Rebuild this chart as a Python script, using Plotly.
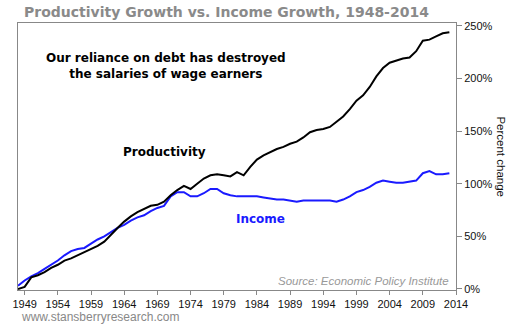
import plotly.graph_objects as go

years = list(range(1948, 2014))
productivity = [0, 2, 11, 13, 16, 20, 23, 27, 29, 32, 35, 38, 41, 45, 52, 58, 64, 69, 73, 76,
                79, 80, 83, 89, 94, 98, 95, 100, 105, 108, 109, 108, 107, 111, 108, 116, 123, 127, 130, 133,
                135, 138, 140, 144, 149, 151, 152, 154, 159, 164, 171, 179, 184, 192, 202, 210, 215, 217,
                219, 220, 226, 236, 237, 240, 243, 244]
income = [3, 8, 12, 15, 19, 23, 27, 32, 36, 38, 39, 43, 47, 50, 54, 58, 61, 65, 68, 70,
          74, 77, 79, 88, 92, 92, 88, 88, 91, 95, 95, 91, 89, 88, 88, 88, 88, 87, 86, 85,
          85, 84, 83, 84, 84, 84, 84, 84, 83, 85, 88, 92, 94, 97, 101, 103, 102, 101,
          101, 102, 103, 110, 112, 109, 109, 110]
x_ticks = list(range(1949, 2015, 5))
y_ticks = [0, 50, 100, 150, 200, 250]
y_labels = [f"{v}%" for v in y_ticks]

W, H = 510, 325
l, r, t, b = 14, 54, 23, 35
pw, ph = W - l - r, H - t - b


def px_x(v):
    return (v - l) / pw


def px_y(v):
    return (H - b - v) / ph


fig = go.Figure()
fig.add_trace(go.Scatter(x=years, y=income, mode="lines",
                         line=dict(color="#1a1aff", width=2), hoverinfo="skip"))
fig.add_trace(go.Scatter(x=years, y=productivity, mode="lines",
                         line=dict(color="#000000", width=2), hoverinfo="skip"))

texts = [
    ("<b>Productivity Growth vs. Income Growth, 1948-2014</b>", 18, 12, "left", "middle",
     dict(family="DejaVu Sans", size=14, color="#8a8a8a"), 0),
    ("<b>Our reliance on debt has destroyed<br>the salaries of wage earners</b>", 163, 66, "center", "middle",
     dict(family="DejaVu Sans", size=12, color="#000"), 0),
    ("<b>Productivity</b>", 162, 152, "center", "middle",
     dict(family="DejaVu Sans", size=12, color="#000"), 0),
    ("<b>Income</b>", 259, 219, "center", "middle",
     dict(family="DejaVu Sans", size=12, color="#1a1aff"), 0),
    ("<i>Source: Economic Policy Institute</i>", 451, 281, "right", "middle",
     dict(family="Liberation Sans, Arial", size=11.5, color="#999"), 0),
    ("Percent change", 501, 157, "center", "middle",
     dict(family="Liberation Sans, Arial", size=11.5, color="#111"), 90),
    ("www.stansberryresearch.com", 15, 317, "left", "middle",
     dict(family="Liberation Sans, Arial", size=12, color="#888"), 0),
]
annotations = [
    dict(text=s, x=px_x(x), y=px_y(y), xref="paper", yref="paper", showarrow=False,
         xanchor=xa, yanchor=ya, font=f, textangle=ang)
    for (s, x, y, xa, ya, f, ang) in texts
]

fig.update_layout(
    width=W, height=H,
    margin=dict(l=l, r=r, t=t, b=b),
    paper_bgcolor="white", plot_bgcolor="white",
    showlegend=False,
    font=dict(family="Liberation Sans, Arial", size=11, color="#111"),
    xaxis=dict(range=[1948, 2014], tickvals=x_ticks, ticktext=[str(v) for v in x_ticks],
               showgrid=False, zeroline=False, showline=True, linecolor="#888", linewidth=1,
               mirror=True, ticks="outside", ticklen=4, tickcolor="#888",
               tickfont=dict(size=11, color="#111")),
    yaxis=dict(range=[-1, 252.8], tickvals=y_ticks, ticktext=y_labels, side="right",
               showgrid=False, zeroline=False, showline=True, linecolor="#888", linewidth=1,
               mirror=True, ticks="outside", ticklen=5, tickcolor="#888",
               tickfont=dict(size=11, color="#111")),
    annotations=annotations,
)

fig.write_html("out.html")
